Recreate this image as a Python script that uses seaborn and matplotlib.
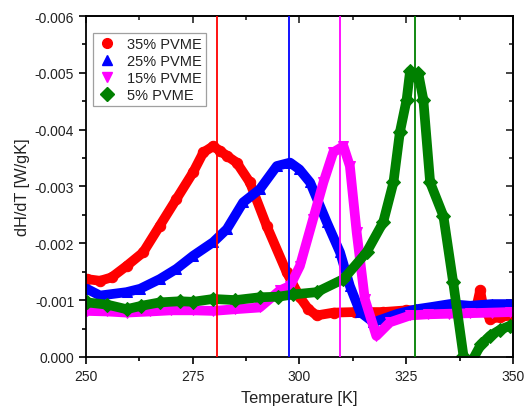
import numpy as np
import pandas as pd
import matplotlib
matplotlib.use("Agg")
import matplotlib.pyplot as plt
import seaborn as sns
from matplotlib.lines import Line2D
from matplotlib.ticker import MultipleLocator, FormatStrFormatter

# ---- data ----
t35 = [250.2, 253.3, 256.0, 259.5, 263.4, 267.3, 271.2, 275.1, 277.5, 279.8, 281.5, 283.0, 285.3,
       288.4, 292.3, 297.0, 300.1, 302.0, 304.0, 308.0, 313.0, 319.6, 325.0, 330.0, 335.2, 340.0,
       341.5, 342.3, 343.0, 344.6, 347.0, 349.3]
y35 = [-0.00137, -0.00134, -0.00140, -0.00160, -0.00184, -0.00231, -0.00278, -0.00325, -0.00360, -0.00371,
       -0.00362, -0.00354, -0.00342, -0.00307, -0.00231, -0.00149, -0.00105, -0.00085, -0.00073, -0.00078,
       -0.00079, -0.00079, -0.00082, -0.00083, -0.00084, -0.00084, -0.00090, -0.00117, -0.00090, -0.00067,
       -0.00070, -0.00073]

t25 = [250.2, 253.3, 259.5, 262.7, 267.3, 271.2, 275.1, 279.8, 283.0, 286.8, 290.7, 294.7, 297.8,
       300.0, 302.5, 306.4, 309.5, 311.8, 314.2, 317.3, 319.6, 323.0, 327.4, 331.0, 335.2, 340.0,
       345.0, 349.3]
y25 = [-0.00120, -0.00108, -0.00114, -0.00120, -0.00137, -0.00155, -0.00178, -0.00202, -0.00225, -0.00272,
       -0.00295, -0.00336, -0.00342, -0.00330, -0.00307, -0.00237, -0.00184, -0.00125, -0.00079, -0.00061,
       -0.00067, -0.00076, -0.00084, -0.00088, -0.00093, -0.00090, -0.00093, -0.00093]

t15 = [250.2, 255.0, 259.5, 265.0, 270.0, 275.0, 279.8, 285.0, 290.7, 295.4, 297.8, 300.1, 303.2,
       305.6, 307.9, 310.3, 311.8, 313.4, 315.3, 318.0, 321.2, 325.9, 330.0, 335.0, 340.0, 345.0, 349.3]
y15 = [-0.00081, -0.00080, -0.00078, -0.00080, -0.00082, -0.00082, -0.00081, -0.00084, -0.00087, -0.00117,
       -0.00125, -0.00160, -0.00243, -0.00307, -0.00360, -0.00371, -0.00336, -0.00219, -0.00102, -0.00037,
       -0.00061, -0.00073, -0.00075, -0.00076, -0.00077, -0.00078, -0.00079]

t5 = [250.2, 255.0, 259.5, 263.0, 267.3, 272.0, 275.0, 279.8, 285.0, 290.7, 295.0, 298.6, 304.0,
      310.3, 315.7, 319.6, 322.0, 323.5, 325.1, 325.9, 327.0, 327.8, 329.0, 330.6, 333.7, 336.0,
      338.4, 339.6, 340.7, 342.5, 344.6, 347.0, 349.3]
y5 = [-0.00096, -0.00092, -0.00084, -0.00090, -0.00096, -0.00098, -0.00097, -0.00102, -0.00100, -0.00105,
      -0.00106, -0.00110, -0.00114, -0.00137, -0.00184, -0.00237, -0.00307, -0.00395, -0.00453, -0.00503,
      -0.00495, -0.00500, -0.00453, -0.00307, -0.00248, -0.00131, -0.00002, 0.00030, 0.00003, -0.00022,
      -0.00037, -0.00048, -0.00055]

labels = ["35% PVME", "25% PVME", "15% PVME", "5% PVME"]
colors = ["#ff0000", "#0000ff", "#ff00ff", "#008000"]
markers = ["o", "^", "v", "D"]
vlines = [280.6, 297.6, 309.6, 327.0]

# ---- plotting ----
sns.set_theme(style="ticks")
plt.rcParams["font.family"] = ["Liberation Sans", "DejaVu Sans"]
plt.rcParams["axes.unicode_minus"] = False

fig = plt.figure(figsize=(5.24, 4.10), dpi=100)
ax = fig.add_axes([0.164, 0.127, 0.815, 0.8315])

series = [(t35, y35), (t25, y25), (t15, y15), (t5, y5)]
for (tx, ty), lab, c, m in zip(series, labels, colors, markers):
    df = pd.DataFrame({"T": tx, "v": ty})
    sns.lineplot(data=df, x="T", y="v", ax=ax, color=c, linewidth=7, marker=m,
                 markersize=7.5, markeredgecolor=c, sort=False, legend=False,
                 solid_capstyle="round", solid_joinstyle="round")

for xv, c in zip(vlines, colors):
    ax.axvline(xv, color=c, linewidth=1.3, zorder=5)

ax.set_xlim(250, 350)
ax.set_ylim(0.0, -0.006)
ax.xaxis.set_major_locator(MultipleLocator(25))
ax.xaxis.set_minor_locator(MultipleLocator(12.5))
ax.yaxis.set_major_locator(MultipleLocator(0.001))
ax.yaxis.set_minor_locator(MultipleLocator(0.0005))
ax.yaxis.set_major_formatter(FormatStrFormatter("%.3f"))

ax.tick_params(which="both", direction="out", width=1.2, colors="black", labelsize=10,
               labelcolor="#222222")
ax.tick_params(which="major", length=5)
ax.tick_params(which="minor", length=3)
ax.tick_params(axis="x", pad=4)

# inward ticks on top and right
axt = ax.secondary_xaxis("top")
axt.xaxis.set_major_locator(MultipleLocator(25))
axt.xaxis.set_minor_locator(MultipleLocator(12.5))
axt.tick_params(which="both", direction="in", width=1.2, labeltop=False)
axt.tick_params(which="major", length=5)
axt.tick_params(which="minor", length=3)
axr = ax.secondary_yaxis("right")
axr.yaxis.set_major_locator(MultipleLocator(0.001))
axr.yaxis.set_minor_locator(MultipleLocator(0.0005))
axr.tick_params(which="both", direction="in", width=1.2, labelright=False)
axr.tick_params(which="major", length=5)
axr.tick_params(which="minor", length=3)

for s in ax.spines.values():
    s.set_linewidth(1.3)
    s.set_color("black")
    s.set_visible(True)

ax.set_xlabel("Temperature [K]", fontsize=11.8, labelpad=5, color="#222222")
ax.set_ylabel("dH/dT [W/gK]", fontsize=11.8, labelpad=3, color="#222222")

handles = [Line2D([], [], linestyle="none", marker=m, color=c, markersize=7)
           for m, c in zip(markers, colors)]
leg = ax.legend(handles, labels, loc="upper left", bbox_to_anchor=(0.0, 0.972), fontsize=10.5,
                frameon=True, fancybox=False, edgecolor="#888888", handletextpad=0.7,
                borderpad=0.3, labelspacing=0.2, handlelength=1.3)
leg.get_frame().set_linewidth(0.9)
leg.set_zorder(10)
for t in leg.get_texts():
    t.set_color("#222222")

fig.savefig("out.png", dpi=100)
